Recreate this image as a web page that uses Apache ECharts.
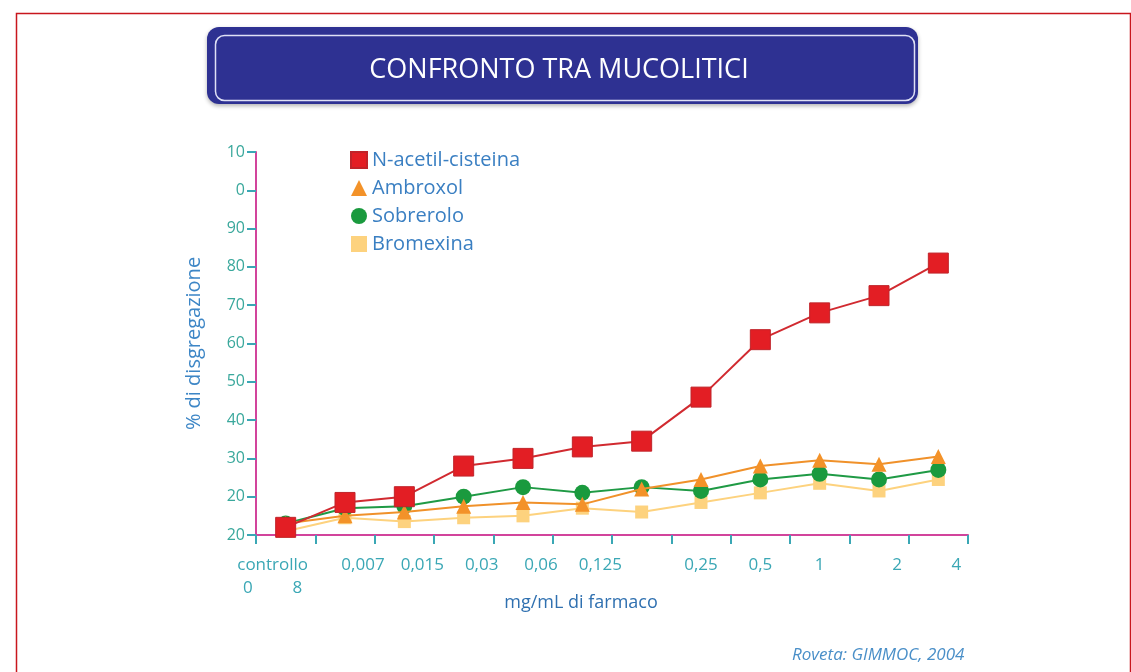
<!DOCTYPE html>
<html>
<head>
<meta charset="utf-8">
<script src="https://cdn.jsdelivr.net/npm/echarts@6/dist/echarts.min.js"></script>
<style>
  html, body { margin: 0; padding: 0; background: #fff; }
  #chart { width: 1131px; height: 672px; }
</style>
</head>
<body>
<div id="chart"></div>
<script>
// dose categories (mg/mL), one per measured point
const doses = ['controllo\n0         8', '0,007', '0,015', '0,03', '0,06', '0,125', '', '0,25', '0,5', '1', '2', '4'];
// y tick labels as printed on the figure (bottom to top)
const yTickLabels = ['20', '20', '30', '40', '50', '60', '70', '80', '90', '0', '10'];

const nAcetilCisteina = [12, 18.5, 20, 28, 30, 33, 34.5, 46, 61, 68, 72.5, 81];
const ambroxol = [13, 15, 16, 17.5, 18.5, 18, 22, 24.5, 28, 29.5, 28.5, 30.5];
const sobrerolo = [13, 17, 17.5, 20, 22.5, 21, 22.5, 21.5, 24.5, 26, 24.5, 27];
const bromexina = [11, 14.5, 13.5, 14.5, 15, 17, 16, 18.5, 21, 23.5, 21.5, 24.5];

const chart = echarts.init(document.getElementById('chart'));

const tickColor = '#3aa7b5';
const axisColor = '#d2449c';

// the printed labels sit a little to the right of most points
const xLabel = (v, i) => {
  if (i === 0) return '{l|controllo}\n{l|0         8}';
  if (i >= 7 && i <= 9) return v;
  return '{r|' + v + '}';
};

const option = {
  backgroundColor: '#fff',
  title: {
    text: 'CONFRONTO TRA MUCOLITICI',
    left: 554,
    textAlign: 'center',
    top: 52,
    textStyle: { color: '#fff', fontSize: 27, fontWeight: 'normal', fontFamily: 'Open Sans' }
  },
  graphic: [
    { type: 'rect', left: 14, top: 11, shape: { width: 1114, height: 670 }, style: { fill: 'none', stroke: '#c8161d', lineWidth: 1.5 }, z: -10 },
    { type: 'rect', left: 207, top: 27, shape: { width: 711, height: 77, r: 12 }, style: { fill: '#2e3192', shadowBlur: 4, shadowColor: 'rgba(0,0,0,0.3)', shadowOffsetY: 2 }, z: -5 },
    { type: 'rect', left: 213, top: 33, shape: { width: 699, height: 65, r: 9 }, style: { fill: 'none', stroke: '#dfe0f5', lineWidth: 1.5 }, z: -4 },
    { type: 'text', left: 792, top: 647, style: { text: 'Roveta: GIMMOC, 2004', fill: '#4a8fc8', font: 'italic 17px "Open Sans"' } }
  ],
  legend: {
    orient: 'vertical',
    left: 345,
    top: 145,
    itemGap: 8,
    itemWidth: 16,
    itemHeight: 16,
    textStyle: { color: '#3a7fc2', fontSize: 20, fontFamily: 'Open Sans' },
    data: [
      { name: 'N-acetil-cisteina', icon: 'rect' },
      { name: 'Ambroxol', icon: 'triangle' },
      { name: 'Sobrerolo', icon: 'circle' },
      { name: 'Bromexina', icon: 'rect' }
    ]
  },
  grid: { left: 256, right: 163, top: 152, bottom: 137 },
  xAxis: {
    type: 'category',
    data: doses,
    boundaryGap: true,
    name: 'mg/mL di farmaco',
    nameLocation: 'middle',
    nameGap: 59,
    nameMoveOverlap: false,
    nameTextStyle: { color: '#2f70b0', fontSize: 18, fontFamily: 'Open Sans', padding: [0, 62, 0, 0] },
    axisLine: { lineStyle: { color: axisColor, width: 2 } },
    axisTick: { show: true, lineStyle: { color: tickColor, width: 2 }, length: 9 },
    axisLabel: {
      interval: 0, color: tickColor, fontSize: 17, margin: 19, fontFamily: 'Open Sans', lineHeight: 23,
      formatter: xLabel,
      rich: {
        l: { color: tickColor, fontSize: 17, fontFamily: 'Open Sans', lineHeight: 23, padding: [0, 26, 0, 0] },
        r: { color: tickColor, fontSize: 17, fontFamily: 'Open Sans', lineHeight: 23, padding: [0, 0, 0, 36] }
      }
    },
    splitLine: { show: false }
  },
  yAxis: {
    type: 'value',
    min: 10,
    max: 110,
    interval: 10,
    name: '% di disgregazione',
    nameLocation: 'middle',
    nameGap: 52,
    nameTextStyle: { color: '#3d86c6', fontSize: 20, fontFamily: 'Open Sans' },
    axisLine: { show: true, lineStyle: { color: axisColor, width: 2 } },
    axisTick: { show: true, lineStyle: { color: tickColor, width: 2 }, length: 9 },
    axisLabel: {
      color: '#3aa89c', fontSize: 16, margin: 11, fontFamily: 'Open Sans',
      formatter: v => yTickLabels[Math.round((v - 10) / 10)]
    },
    splitLine: { show: false }
  },
  series: [
    {
      name: 'Bromexina', type: 'line', data: bromexina,
      symbol: 'rect', symbolSize: 13,
      lineStyle: { color: '#fdd27e', width: 2 },
      itemStyle: { color: '#fdd27e' }, z: 2
    },
    {
      name: 'Sobrerolo', type: 'line', data: sobrerolo,
      symbol: 'circle', symbolSize: 16,
      lineStyle: { color: '#1f9a45', width: 2 },
      itemStyle: { color: '#1a9a3e' }, z: 3
    },
    {
      name: 'Ambroxol', type: 'line', data: ambroxol,
      symbol: 'triangle', symbolSize: 15,
      lineStyle: { color: '#f0912a', width: 2 },
      itemStyle: { color: '#f39229' }, z: 4
    },
    {
      name: 'N-acetil-cisteina', type: 'line', data: nAcetilCisteina,
      symbol: 'rect', symbolSize: 20,
      lineStyle: { color: '#d12a30', width: 2 },
      itemStyle: { color: '#e31e24', borderColor: '#c0242a', borderWidth: 1 }, z: 5
    }
  ]
};

chart.setOption(option);
</script>
</body>
</html>
